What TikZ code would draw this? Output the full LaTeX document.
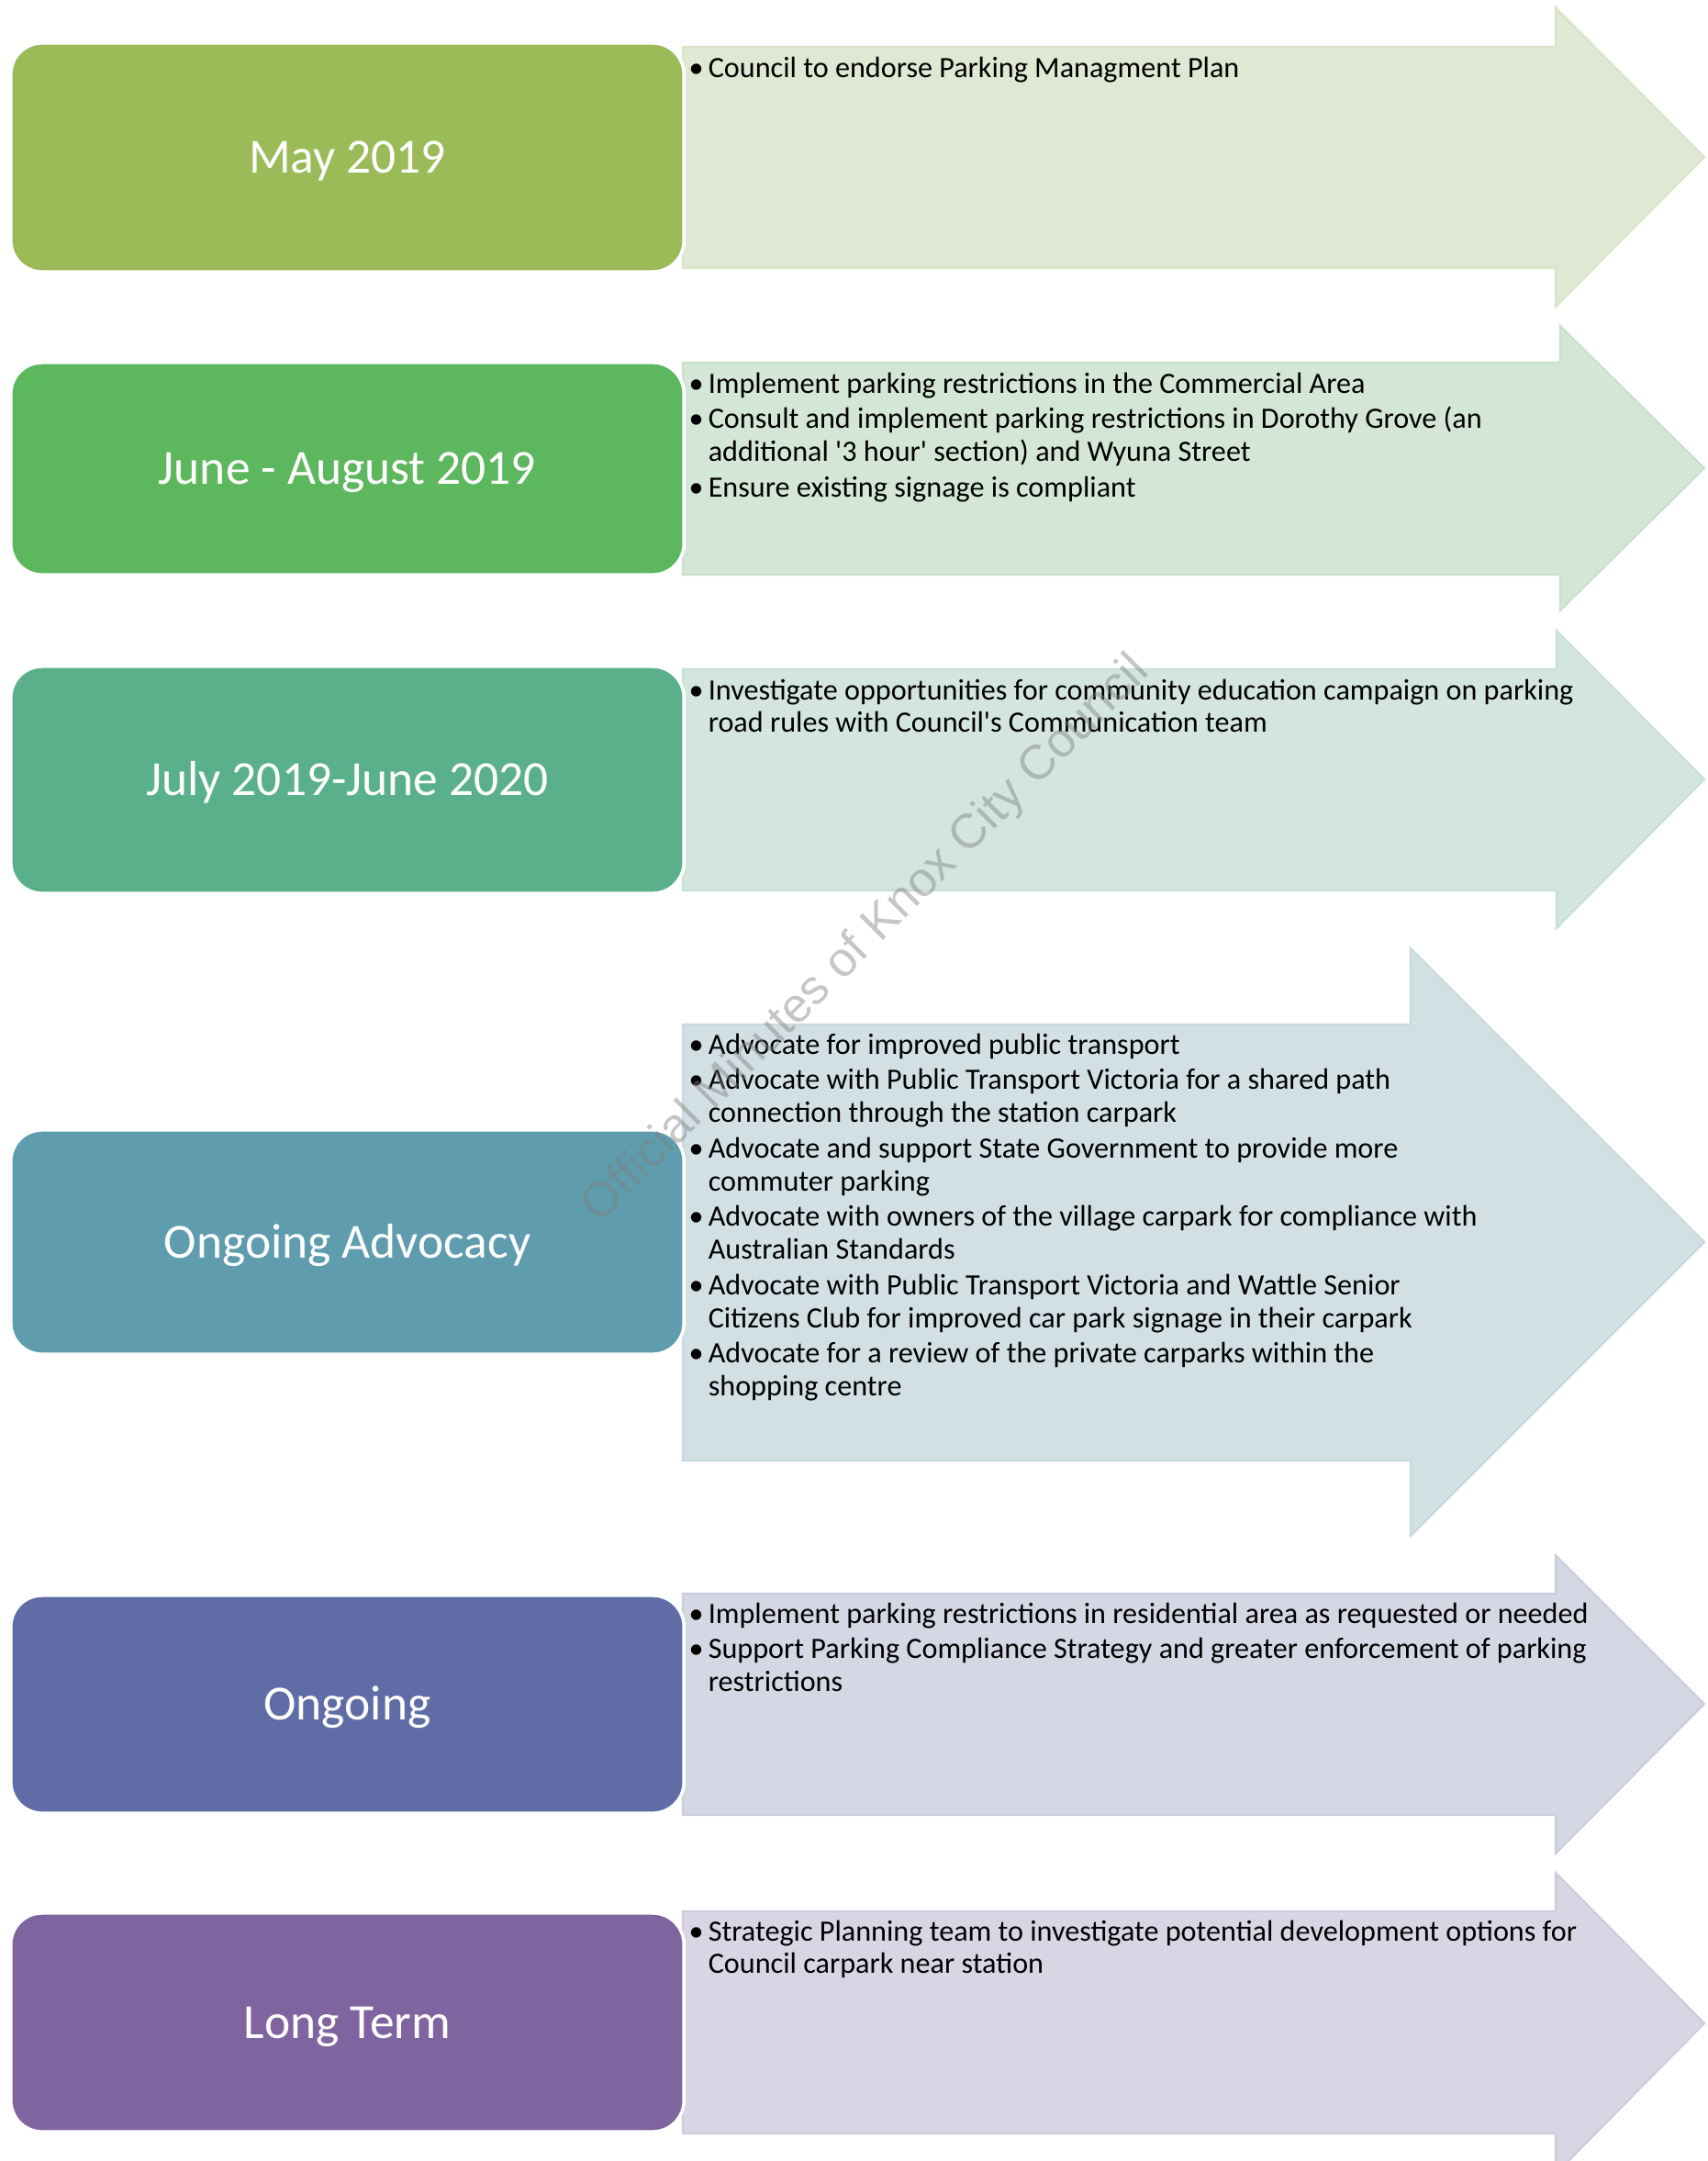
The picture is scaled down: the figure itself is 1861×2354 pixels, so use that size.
\documentclass[tikz,border=0pt]{standalone}
\usepackage{fontspec}
\setmainfont{Carlito}
\newfontfamily\wmfont{Liberation Sans}
\usepackage{xcolor}
\usepackage{tikz}
\usetikzlibrary{positioning}
\definecolor{mayDark}{HTML}{9BBB59}
\definecolor{mayLight}{HTML}{E0E8D4}
\definecolor{junDark}{HTML}{5DB75E}
\definecolor{junLight}{HTML}{D4E6D5}
\definecolor{julDark}{HTML}{5BB08C}
\definecolor{julLight}{HTML}{D3E5DD}
\definecolor{advDark}{HTML}{5F9CAD}
\definecolor{advLight}{HTML}{D2E0E4}
\definecolor{ongDark}{HTML}{5F6CA6}
\definecolor{ongLight}{HTML}{D5D8E4}
\definecolor{lngDark}{HTML}{8064A0}
\definecolor{lngLight}{HTML}{D9D5E4}
\newcommand{\bul}{\makebox[6pt][l]{\textbullet}}
\newcommand{\cont}{\hspace*{6pt}}

\begin{document}
\begin{tikzpicture}[
    x=0.01cm, y=-0.01cm,
    stage/.style={draw=white,line width=1pt,rounded corners=0.34cm,fill=#1Dark,
      minimum width=7.33cm,text=white,font=\fontsize{15.2}{18}\selectfont,
      text height=9.8pt,text depth=0pt},
    band/.style={fill=#1Light,draw=#1Dark!10!#1Light,line width=0.6pt},
    items/.style={anchor=north west,inner sep=0pt,align=left,
      font=\fontsize{9.15}{10.2}\selectfont}
  ]
  \useasboundingbox (0,0) rectangle (1861,2354);

  % May 2019
  \draw[band=may] (744,51) -- (1695,51) -- (1695,8) -- (1857,171)
    -- (1695,334) -- (1695,292) -- (744,292) -- cycle;
  \node[stage=may,minimum height=2.49cm] (may) at (378.5,171.5) {May 2019};
  \node[items] (mayTxt) at (750,61) {\bul Council to endorse Parking Managment Plan};

  % June - August 2019
  \draw[band=jun] (744,395) -- (1700,395) -- (1700,355) -- (1857,510)
    -- (1700,665) -- (1700,626) -- (744,626) -- cycle;
  \node[stage=jun,minimum height=2.31cm] (jun) at (378.5,510.5) {June - August 2019};
  \node[items] (junTxt) at (750,405) {\bul Implement parking restrictions in the Commercial Area\\[0.8pt]
    \bul Consult and implement parking restrictions in Dorothy Grove (an\\
    \cont additional \textquotesingle3 hour\textquotesingle\ section) and Wyuna Street\\[0.8pt]
    \bul Ensure existing signage is compliant};

  % July 2019-June 2020
  \draw[band=jul] (744,729) -- (1696,729) -- (1696,687) -- (1857,849)
    -- (1696,1011) -- (1696,970) -- (744,970) -- cycle;
  \node[stage=jul,minimum height=2.47cm] (jul) at (378.5,849.5) {July 2019-June 2020};
  \node[items] (julTxt) at (750,739) {\bul Investigate opportunities for community education campaign on parking\\
    \cont road rules with Council\textquotesingle s Communication team};

  % Ongoing Advocacy
  \draw[band=adv] (744,1116) -- (1537,1116) -- (1537,1033) -- (1857,1353)
    -- (1537,1673) -- (1537,1591) -- (744,1591) -- cycle;
  \node[stage=adv,minimum height=2.44cm] (adv) at (378.5,1353) {Ongoing Advocacy};
  \node[items] (advTxt) at (750,1125) {\bul Advocate for improved public transport\\[0.8pt]
    \bul Advocate with Public Transport Victoria for a shared path\\
    \cont connection through the station carpark\\[0.8pt]
    \bul Advocate and support State Government to provide more\\
    \cont commuter parking\\[0.8pt]
    \bul Advocate with owners of the village carpark for compliance with\\
    \cont Australian Standards\\[0.8pt]
    \bul Advocate with Public Transport Victoria and Wattle Senior\\
    \cont Citizens Club for improved car park signage in their carpark\\[0.8pt]
    \bul Advocate for a review of the private carparks within the\\
    \cont shopping centre};

  % Ongoing
  \draw[band=ong] (744,1736) -- (1695,1736) -- (1695,1694) -- (1857,1856)
    -- (1695,2019) -- (1695,1977) -- (744,1977) -- cycle;
  \node[stage=ong,minimum height=2.37cm] (ong) at (378.5,1856.5) {Ongoing};
  \node[items] (ongTxt) at (750,1745) {\bul Implement parking restrictions in residential area as requested or needed\\[0.8pt]
    \bul Support Parking Compliance Strategy and greater enforcement of parking\\
    \cont restrictions};

  % Long Term
  \draw[band=lng] (744,2082) -- (1695,2082) -- (1695,2040) -- (1857,2204)
    -- (1695,2368) -- (1695,2324) -- (744,2324) -- cycle;
  \node[stage=lng,minimum height=2.38cm] (lng) at (378.5,2203) {Long Term};
  \node[items] (lngTxt) at (750,2091) {\bul Strategic Planning team to investigate potential development options for\\
    \cont Council carpark near station};

  % watermark
  \node[rotate=45,text=gray,text opacity=0.45,font=\wmfont\fontsize{15}{18}\selectfont]
    (wm) at (944,1024) {Official Minutes of Knox City Council};
\end{tikzpicture}
\end{document}
